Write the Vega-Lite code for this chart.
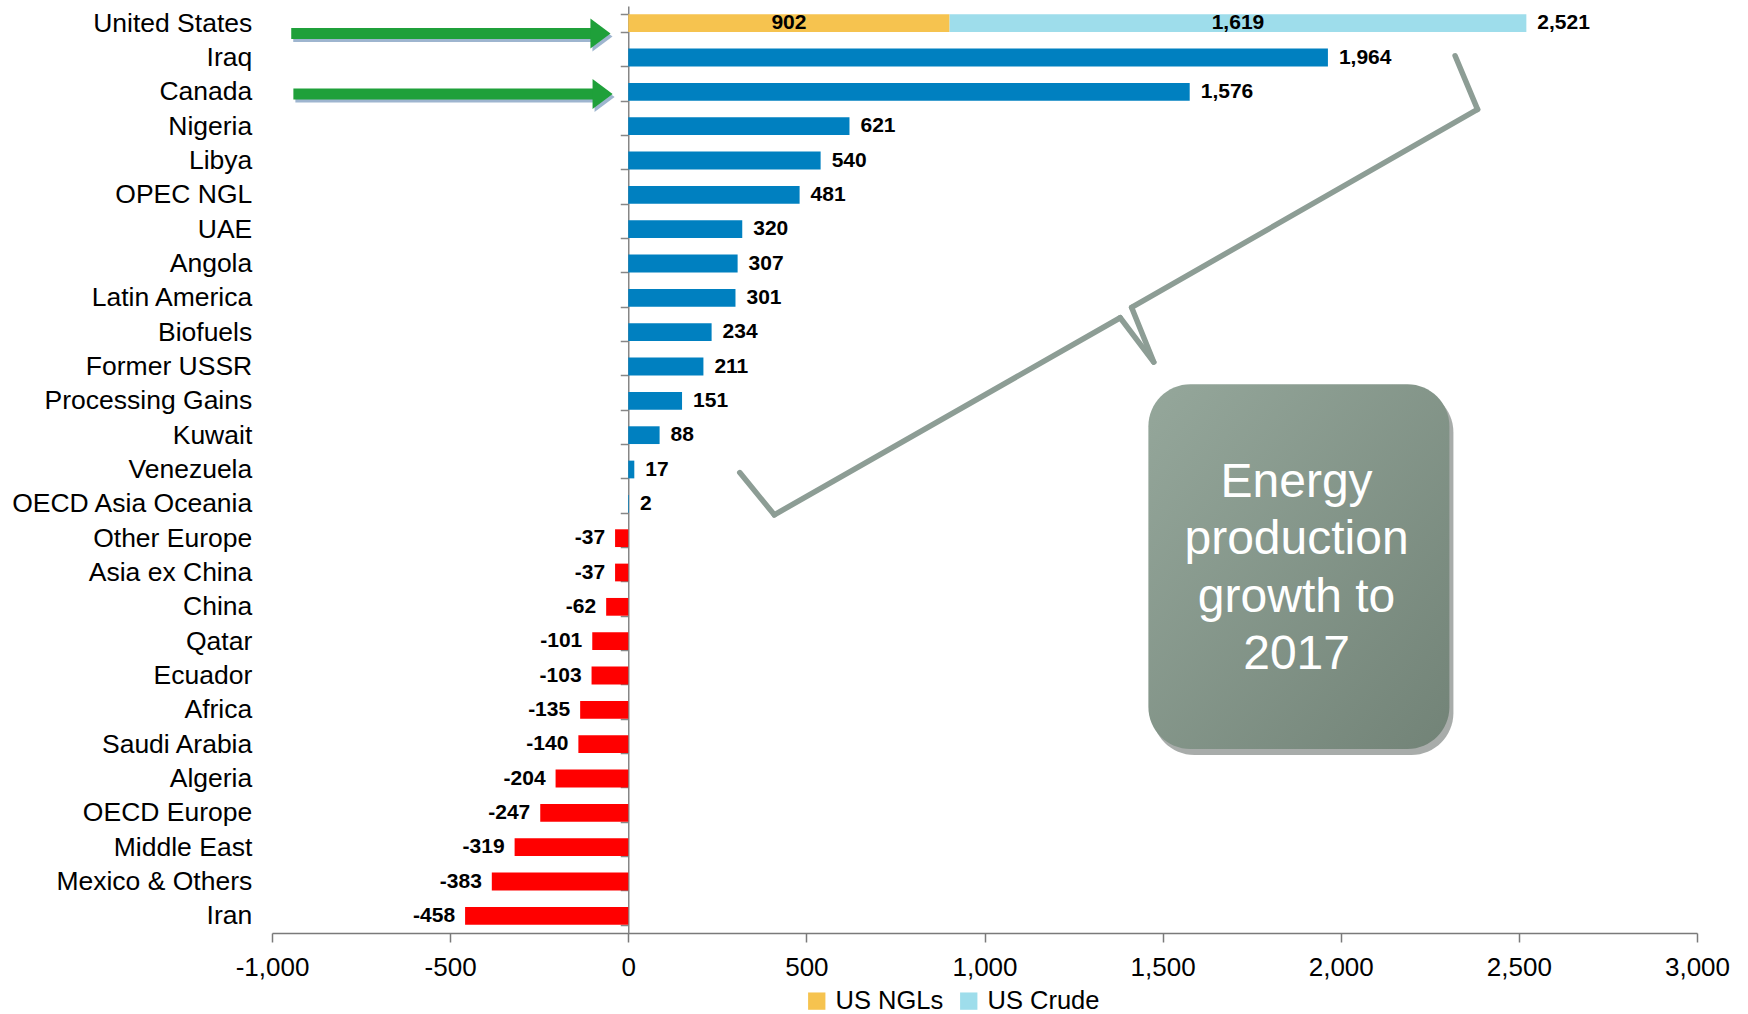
{
  "$schema": "https://vega.github.io/schema/vega-lite/v6.json",
  "width": 1425,
  "height": 927,
  "autosize": {"type": "none"},
  "padding": {"left": 272, "top": 6, "right": 51, "bottom": 81},
  "background": "white",
  "config": {
    "view": {"stroke": null},
    "font": "Liberation Sans",
    "locale": {"number": {"decimal": ".", "thousands": ",", "grouping": [3], "currency": ["$", ""], "minus": "-"}}
  },
  "datasets": {
    "supply": [
      {"region": "United States", "series": "US NGLs", "value": 902},
      {"region": "United States", "series": "US Crude", "value": 1619},
      {"region": "Iraq", "series": "Increase", "value": 1964},
      {"region": "Canada", "series": "Increase", "value": 1576},
      {"region": "Nigeria", "series": "Increase", "value": 621},
      {"region": "Libya", "series": "Increase", "value": 540},
      {"region": "OPEC NGL", "series": "Increase", "value": 481},
      {"region": "UAE", "series": "Increase", "value": 320},
      {"region": "Angola", "series": "Increase", "value": 307},
      {"region": "Latin America", "series": "Increase", "value": 301},
      {"region": "Biofuels", "series": "Increase", "value": 234},
      {"region": "Former USSR", "series": "Increase", "value": 211},
      {"region": "Processing Gains", "series": "Increase", "value": 151},
      {"region": "Kuwait", "series": "Increase", "value": 88},
      {"region": "Venezuela", "series": "Increase", "value": 17},
      {"region": "OECD Asia Oceania", "series": "Increase", "value": 2},
      {"region": "Other Europe", "series": "Decrease", "value": -37},
      {"region": "Asia ex China", "series": "Decrease", "value": -37},
      {"region": "China", "series": "Decrease", "value": -62},
      {"region": "Qatar", "series": "Decrease", "value": -101},
      {"region": "Ecuador", "series": "Decrease", "value": -103},
      {"region": "Africa", "series": "Decrease", "value": -135},
      {"region": "Saudi Arabia", "series": "Decrease", "value": -140},
      {"region": "Algeria", "series": "Decrease", "value": -204},
      {"region": "OECD Europe", "series": "Decrease", "value": -247},
      {"region": "Middle East", "series": "Decrease", "value": -319},
      {"region": "Mexico & Others", "series": "Decrease", "value": -383},
      {"region": "Iran", "series": "Decrease", "value": -458}
    ],
    "arrows": [
      {"target": "United States", "start": -946, "end": -95, "head": -78, "row": 0.8},
      {"target": "Canada", "start": -940, "end": -90, "head": -72, "row": 2.56}
    ],
    "brace": [
      {"x": 313, "x2": 410, "row": 13.59, "row2": 14.82},
      {"x": 410, "x2": 1381, "row": 14.82, "row2": 9.08},
      {"x": 1381, "x2": 1475, "row": 9.08, "row2": 10.37},
      {"x": 1475, "x2": 1413, "row": 10.37, "row2": 8.78},
      {"x": 1413, "x2": 2384, "row": 8.78, "row2": 3.01},
      {"x": 2384, "x2": 2321, "row": 3.01, "row2": 1.45}
    ],
    "callout": [
      {"left": 1460, "right": 2305, "top": 11.02, "bottom": 21.64, "mid": 1876, "firstLine": 13.88, "label": "Energy\nproduction\ngrowth to\n2017"}
    ]
  },
  "layer": [
    {
      "data": {"name": "supply"},
      "mark": {"type": "bar"},
      "encoding": {
        "y": {
          "field": "region",
          "type": "nominal",
          "scale": {
            "domain": ["United States", "Iraq", "Canada", "Nigeria", "Libya", "OPEC NGL", "UAE", "Angola", "Latin America", "Biofuels", "Former USSR", "Processing Gains", "Kuwait", "Venezuela", "OECD Asia Oceania", "Other Europe", "Asia ex China", "China", "Qatar", "Ecuador", "Africa", "Saudi Arabia", "Algeria", "OECD Europe", "Middle East", "Mexico & Others", "Iran"],
            "paddingInner": 0.483,
            "paddingOuter": 0.2415
          },
          "axis": {
            "title": null,
            "orient": "left",
            "offset": -356.25,
            "domainColor": "#868686",
            "domainWidth": 1.5,
            "tickColor": "#868686",
            "tickWidth": 1.5,
            "tickSize": 8,
            "tickBand": "extent",
            "labelPadding": 368.5,
            "labelFont": "Liberation Sans",
            "labelFontSize": 26.5,
            "labelColor": "#000000",
            "labelLimit": 400
          }
        },
        "x": {
          "field": "value",
          "type": "quantitative",
          "stack": "zero",
          "title": null,
          "scale": {"domain": [-1000, 3000], "nice": false, "zero": false},
          "axis": {
            "title": null,
            "orient": "bottom",
            "values": [-1000, -500, 0, 500, 1000, 1500, 2000, 2500, 3000],
            "format": ",.0f",
            "grid": false,
            "domain": true,
            "ticks": true,
            "domainColor": "#7a7a7a",
            "domainWidth": 1.5,
            "tickColor": "#7a7a7a",
            "tickWidth": 1.5,
            "tickSize": 9,
            "labelPadding": 12,
            "labelFlush": false,
            "labelOverlap": false,
            "labelFont": "Liberation Sans Narrow, Liberation Sans",
            "labelFontSize": 26,
            "labelColor": "#000000"
          }
        },
        "color": {
          "field": "series",
          "type": "nominal",
          "scale": {
            "domain": ["US NGLs", "US Crude", "Increase", "Decrease"],
            "range": ["#F6C34F", "#9EDDEB", "#0080C0", "#FF0000"]
          },
          "legend": {
            "values": ["US NGLs", "US Crude"],
            "title": null,
            "orient": "none",
            "direction": "horizontal",
            "legendX": 532,
            "legendY": 982,
            "symbolType": "square",
            "symbolSize": 300,
            "symbolStrokeWidth": 0,
            "symbolOpacity": 1,
            "labelFont": "Liberation Sans Narrow, Liberation Sans",
            "labelFontSize": 25.5,
            "labelColor": "#000000",
            "labelOffset": 6,
            "columnPadding": 12
          }
        },
        "order": {"field": "series", "sort": "descending"}
      }
    },
    {
      "data": {"name": "supply"},
      "transform": [{"filter": "datum.region === 'United States'"}],
      "mark": {"type": "text", "align": "center", "baseline": "middle", "fontWeight": "bold", "fontSize": 21, "color": "#000000"},
      "encoding": {
        "y": {
          "field": "region",
          "type": "nominal",
          "scale": {
            "domain": ["United States", "Iraq", "Canada", "Nigeria", "Libya", "OPEC NGL", "UAE", "Angola", "Latin America", "Biofuels", "Former USSR", "Processing Gains", "Kuwait", "Venezuela", "OECD Asia Oceania", "Other Europe", "Asia ex China", "China", "Qatar", "Ecuador", "Africa", "Saudi Arabia", "Algeria", "OECD Europe", "Middle East", "Mexico & Others", "Iran"],
            "paddingInner": 0.483,
            "paddingOuter": 0.2415
          },
          "axis": null
        },
        "x": {
          "field": "value",
          "type": "quantitative",
          "stack": "zero",
          "bandPosition": 0.5,
          "title": null,
          "scale": {"domain": [-1000, 3000], "nice": false, "zero": false}
        },
        "detail": {"field": "series"},
        "order": {"field": "series", "sort": "descending"},
        "text": {"field": "value", "type": "quantitative", "format": ",.0f"}
      }
    },
    {
      "data": {"name": "supply"},
      "transform": [
        {"aggregate": [{"op": "sum", "field": "value", "as": "total"}], "groupby": ["region"]},
        {"filter": "datum.total >= 0"}
      ],
      "mark": {"type": "text", "align": "left", "baseline": "middle", "dx": 11, "fontWeight": "bold", "fontSize": 21, "color": "#000000"},
      "encoding": {
        "y": {
          "field": "region",
          "type": "nominal",
          "scale": {
            "domain": ["United States", "Iraq", "Canada", "Nigeria", "Libya", "OPEC NGL", "UAE", "Angola", "Latin America", "Biofuels", "Former USSR", "Processing Gains", "Kuwait", "Venezuela", "OECD Asia Oceania", "Other Europe", "Asia ex China", "China", "Qatar", "Ecuador", "Africa", "Saudi Arabia", "Algeria", "OECD Europe", "Middle East", "Mexico & Others", "Iran"],
            "paddingInner": 0.483,
            "paddingOuter": 0.2415
          },
          "axis": null
        },
        "x": {"field": "total", "type": "quantitative", "title": null, "scale": {"domain": [-1000, 3000], "nice": false, "zero": false}},
        "text": {"field": "total", "type": "quantitative", "format": ",.0f"}
      }
    },
    {
      "data": {"name": "supply"},
      "transform": [
        {"aggregate": [{"op": "sum", "field": "value", "as": "total"}], "groupby": ["region"]},
        {"filter": "datum.total < 0"}
      ],
      "mark": {"type": "text", "align": "right", "baseline": "middle", "dx": -10, "fontWeight": "bold", "fontSize": 21, "color": "#000000"},
      "encoding": {
        "y": {
          "field": "region",
          "type": "nominal",
          "scale": {
            "domain": ["United States", "Iraq", "Canada", "Nigeria", "Libya", "OPEC NGL", "UAE", "Angola", "Latin America", "Biofuels", "Former USSR", "Processing Gains", "Kuwait", "Venezuela", "OECD Asia Oceania", "Other Europe", "Asia ex China", "China", "Qatar", "Ecuador", "Africa", "Saudi Arabia", "Algeria", "OECD Europe", "Middle East", "Mexico & Others", "Iran"],
            "paddingInner": 0.483,
            "paddingOuter": 0.2415
          },
          "axis": null
        },
        "x": {"field": "total", "type": "quantitative", "title": null, "scale": {"domain": [-1000, 3000], "nice": false, "zero": false}},
        "text": {"field": "total", "type": "quantitative", "format": ",.0f"}
      }
    },
    {
      "data": {"name": "arrows"},
      "mark": {"type": "rule", "strokeWidth": 11, "color": "#4F78A8", "opacity": 0.55, "yOffset": 3, "xOffset": 2},
      "encoding": {
        "x": {"field": "start", "type": "quantitative", "title": null, "scale": {"domain": [-1000, 3000], "nice": false, "zero": false}},
        "x2": {"field": "end"},
        "y": {"field": "row", "type": "quantitative", "scale": {"domain": [0, 27], "nice": false, "zero": false, "reverse": true}, "axis": null}
      }
    },
    {
      "data": {"name": "arrows"},
      "mark": {"type": "point", "shape": "M-0.67,-1L0.67,0L-0.67,1Z", "size": 900, "filled": true, "color": "#4F78A8", "opacity": 0.55, "yOffset": 3, "xOffset": 2},
      "encoding": {
        "x": {"field": "head", "type": "quantitative", "title": null, "scale": {"domain": [-1000, 3000], "nice": false, "zero": false}},
        "y": {"field": "row", "type": "quantitative", "scale": {"domain": [0, 27], "nice": false, "zero": false, "reverse": true}, "axis": null}
      }
    },
    {
      "data": {"name": "arrows"},
      "mark": {"type": "rule", "strokeWidth": 11, "color": "#1FA03A"},
      "encoding": {
        "x": {"field": "start", "type": "quantitative", "title": null, "scale": {"domain": [-1000, 3000], "nice": false, "zero": false}},
        "x2": {"field": "end"},
        "y": {"field": "row", "type": "quantitative", "scale": {"domain": [0, 27], "nice": false, "zero": false, "reverse": true}, "axis": null}
      }
    },
    {
      "data": {"name": "arrows"},
      "mark": {"type": "point", "shape": "M-0.67,-1L0.67,0L-0.67,1Z", "size": 900, "filled": true, "color": "#1FA03A", "opacity": 1},
      "encoding": {
        "x": {"field": "head", "type": "quantitative", "title": null, "scale": {"domain": [-1000, 3000], "nice": false, "zero": false}},
        "y": {"field": "row", "type": "quantitative", "scale": {"domain": [0, 27], "nice": false, "zero": false, "reverse": true}, "axis": null}
      }
    },
    {
      "data": {"name": "brace"},
      "mark": {"type": "rule", "strokeWidth": 5.5, "color": "#8D9D95", "strokeCap": "round"},
      "encoding": {
        "x": {"field": "x", "type": "quantitative", "title": null, "scale": {"domain": [-1000, 3000], "nice": false, "zero": false}},
        "x2": {"field": "x2"},
        "y": {"field": "row", "type": "quantitative", "scale": {"domain": [0, 27], "nice": false, "zero": false, "reverse": true}, "axis": null},
        "y2": {"field": "row2"}
      }
    },
    {
      "data": {"name": "callout"},
      "mark": {"type": "rect", "cornerRadius": 42, "color": "#3E4842", "opacity": 0.45, "xOffset": 4, "x2Offset": 4, "yOffset": 6, "y2Offset": 6},
      "encoding": {
        "x": {"field": "left", "type": "quantitative", "title": null, "scale": {"domain": [-1000, 3000], "nice": false, "zero": false}},
        "x2": {"field": "right"},
        "y": {"field": "top", "type": "quantitative", "scale": {"domain": [0, 27], "nice": false, "zero": false, "reverse": true}, "axis": null},
        "y2": {"field": "bottom"}
      }
    },
    {
      "data": {"name": "callout"},
      "mark": {
        "type": "rect",
        "cornerRadius": 42,
        "fill": {
          "gradient": "linear",
          "x1": 0, "y1": 0, "x2": 1, "y2": 1,
          "stops": [{"offset": 0, "color": "#95A79B"}, {"offset": 1, "color": "#728377"}]
        }
      },
      "encoding": {
        "x": {"field": "left", "type": "quantitative", "title": null, "scale": {"domain": [-1000, 3000], "nice": false, "zero": false}},
        "x2": {"field": "right"},
        "y": {"field": "top", "type": "quantitative", "scale": {"domain": [0, 27], "nice": false, "zero": false, "reverse": true}, "axis": null},
        "y2": {"field": "bottom"}
      }
    },
    {
      "data": {"name": "callout"},
      "mark": {"type": "text", "align": "center", "baseline": "middle", "lineBreak": "\n", "lineHeight": 57.5, "fontSize": 48, "font": "Liberation Sans", "color": "#FFFFFF"},
      "encoding": {
        "x": {"field": "mid", "type": "quantitative", "title": null, "scale": {"domain": [-1000, 3000], "nice": false, "zero": false}},
        "y": {"field": "firstLine", "type": "quantitative", "scale": {"domain": [0, 27], "nice": false, "zero": false, "reverse": true}, "axis": null},
        "text": {"field": "label"}
      }
    }
  ],
  "resolve": {"scale": {"y": "independent"}}
}
